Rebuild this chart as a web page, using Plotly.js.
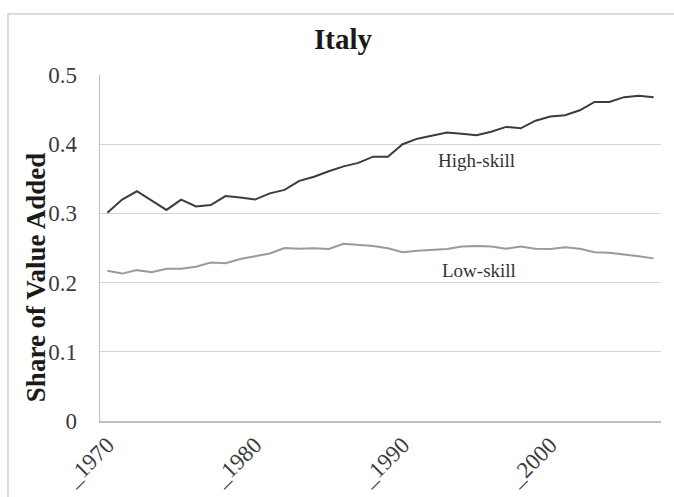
<!DOCTYPE html>
<html>
<head>
<meta charset="utf-8">
<script src="https://cdn.plot.ly/plotly-3.0.1.min.js"></script>
<style>
  html, body { margin: 0; padding: 0; background: #fff; }
  #chart { width: 674px; height: 497px; }
</style>
</head>
<body>
<div id="chart"></div>
<script>
const years = [1970,1971,1972,1973,1974,1975,1976,1977,1978,1979,
               1980,1981,1982,1983,1984,1985,1986,1987,1988,1989,
               1990,1991,1992,1993,1994,1995,1996,1997,1998,1999,
               2000,2001,2002,2003,2004,2005,2006,2007];
const highSkill = [0.301,0.320,0.332,0.318,0.305,0.320,0.310,0.312,0.325,0.323,
                   0.320,0.329,0.334,0.347,0.353,0.361,0.368,0.373,0.382,0.382,
                   0.400,0.408,0.412,0.417,0.415,0.413,0.418,0.425,0.423,0.434,
                   0.440,0.442,0.449,0.461,0.461,0.468,0.470,0.468];
const lowSkill = [0.217,0.213,0.218,0.215,0.220,0.220,0.223,0.229,0.228,0.234,
                  0.238,0.242,0.250,0.249,0.2495,0.2485,0.256,0.254,0.253,0.2495,
                  0.244,0.246,0.247,0.2485,0.252,0.253,0.252,0.249,0.252,0.249,
                  0.2485,0.251,0.249,0.244,0.243,0.241,0.238,0.235];
const xTickVals = [1970,1980,1990,2000];
const xTickText = ["_1970","_1980","_1990","_2000"];
const yTickVals = [0,0.1,0.2,0.3,0.4,0.5];
const yTickText = ["0","0.1","0.2","0.3","0.4","0.5"];

const serif = "Liberation Serif, Times New Roman, serif";

const traces = [
  {x: years, y: highSkill, type: 'scatter', mode: 'lines', name: 'High-skill',
   line: {color: '#3c3c3c', width: 2}},
  {x: years, y: lowSkill, type: 'scatter', mode: 'lines', name: 'Low-skill',
   line: {color: '#9a9a9a', width: 2}}
];

const layout = {
  width: 674, height: 497,
  margin: {l: 100, r: 13, t: 75, b: 76},
  paper_bgcolor: '#fff', plot_bgcolor: '#fff',
  showlegend: false,
  font: {family: serif, color: '#404040', size: 23},
  title: {text: '<b>Italy</b>', font: {family: serif, size: 29, color: '#1a1a1a'},
          xref: 'container', x: 0.509, xanchor: 'center',
          yref: 'container', y: 0.922, yanchor: 'middle'},
  xaxis: {
    range: [1969.5, 2007.5],
    tickmode: 'array', tickvals: xTickVals, ticktext: xTickText,
    tickangle: -45,
    showgrid: false, zeroline: false,
    showline: true, linecolor: '#bfbfbf', linewidth: 1.5,
    ticks: '', tickfont: {family: serif, size: 23, color: '#3a3a3a'}
  },
  yaxis: {
    range: [0, 0.5],
    tickmode: 'array', tickvals: yTickVals, ticktext: yTickText,
    showgrid: true, gridcolor: '#d4d4d4', gridwidth: 1,
    zeroline: false,
    showline: true, linecolor: '#bfbfbf', linewidth: 1.5,
    ticks: 'outside', ticklen: 17, tickcolor: 'rgba(0,0,0,0)',
    tickfont: {family: serif, size: 23, color: '#3a3a3a'}
  },
  annotations: [
    {text: '<b>Share of Value Added</b>', textangle: -90, showarrow: false,
     xref: 'paper', yref: 'paper', x: -0.114, y: 0.413, xanchor: 'center', yanchor: 'middle',
     font: {family: serif, size: 27, color: '#1a1a1a'}},
    {text: 'High-skill', showarrow: false, xref: 'x', yref: 'y', x: 1995.0, y: 0.377,
     xanchor: 'center', yanchor: 'middle', font: {family: serif, size: 19, color: '#333'}},
    {text: 'Low-skill', showarrow: false, xref: 'x', yref: 'y', x: 1995.2, y: 0.218,
     xanchor: 'center', yanchor: 'middle', font: {family: serif, size: 19, color: '#333'}}
  ],
  shapes: [
    {type: 'rect', xref: 'paper', yref: 'paper', x0: -0.164, x1: 1.05, y0: -0.3, y1: 1.176,
     line: {color: '#d0d0d0', width: 1.5}, fillcolor: 'rgba(0,0,0,0)', layer: 'below'}
  ]
};

Plotly.newPlot('chart', traces, layout, {staticPlot: true, displayModeBar: false});
</script>
</body>
</html>
